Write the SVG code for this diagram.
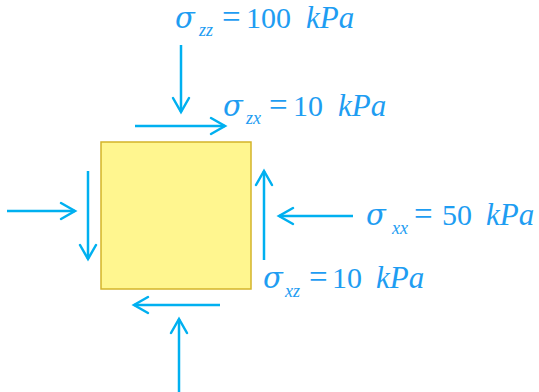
<svg xmlns="http://www.w3.org/2000/svg" width="539" height="392" viewBox="0 0 539 392">
  <style>
    .arr { stroke: #00B0F0; stroke-width: 2.5; fill: none; marker-end: url(#head); }
    text { font-family: 'Liberation Serif', 'DejaVu Serif', serif; fill: #1E9DF2; font-size: 30px; }
    .it { font-style: italic; font-size: 31px; }
    .eq { font-size: 33px; }
    .sig { font-family: 'DejaVu Serif', 'Liberation Serif', serif; font-style: italic; font-size: 29px; }
    .sub { font-style: italic; font-size: 18px; }
  </style>
  <defs>
    <marker id="head" markerUnits="userSpaceOnUse" viewBox="-18 -10 20 20" refX="0" refY="0" markerWidth="20" markerHeight="20" orient="auto" overflow="visible">
      <path d="M-14,-8 L0,0 L-14,8" fill="none" stroke="#00B0F0" stroke-width="2.5" stroke-linecap="round" stroke-linejoin="miter"/>
    </marker>
  </defs>
  <rect width="539" height="392" fill="#FFFFFF"/>
  <g id="element">
    <rect x="101" y="142" width="150" height="147" fill="#FFF68F" stroke="#D4B42A" stroke-width="1.5"/>
  </g>
  <g id="connectors">
    <line class="arr" x1="181" y1="45" x2="181" y2="112"/>
    <line class="arr" x1="135" y1="126" x2="225" y2="126"/>
    <line class="arr" x1="7" y1="211" x2="75" y2="211"/>
    <line class="arr" x1="88" y1="171" x2="88" y2="259"/>
    <line class="arr" x1="353" y1="216" x2="279" y2="216"/>
    <line class="arr" x1="264" y1="260" x2="264" y2="171"/>
    <line class="arr" x1="220" y1="305" x2="134" y2="305"/>
    <line class="arr" x1="179" y1="392" x2="179" y2="319"/>
  </g>
  <g id="label-szz">
    <text x="175" y="28" class="sig">σ</text>
    <text x="199" y="36" class="sub">zz</text>
    <text x="222" y="28" class="eq">=</text>
    <text x="246" y="28">100</text>
    <text x="306" y="28" class="it">kPa</text>
  </g>
  <g id="label-szx">
    <text x="223" y="116" class="sig">σ</text>
    <text x="246" y="124" class="sub">zx</text>
    <text x="269" y="116" class="eq">=</text>
    <text x="293" y="116">10</text>
    <text x="338" y="116" class="it">kPa</text>
  </g>
  <g id="label-sxx">
    <text x="366" y="225" class="sig">σ</text>
    <text x="392" y="234" class="sub">xx</text>
    <text x="414" y="225" class="eq">=</text>
    <text x="442" y="225">50</text>
    <text x="486" y="225" class="it">kPa</text>
  </g>
  <g id="label-sxz">
    <text x="263" y="288" class="sig">σ</text>
    <text x="285" y="297" class="sub">xz</text>
    <text x="309" y="288" class="eq">=</text>
    <text x="332" y="288">10</text>
    <text x="376" y="288" class="it">kPa</text>
  </g>
</svg>
